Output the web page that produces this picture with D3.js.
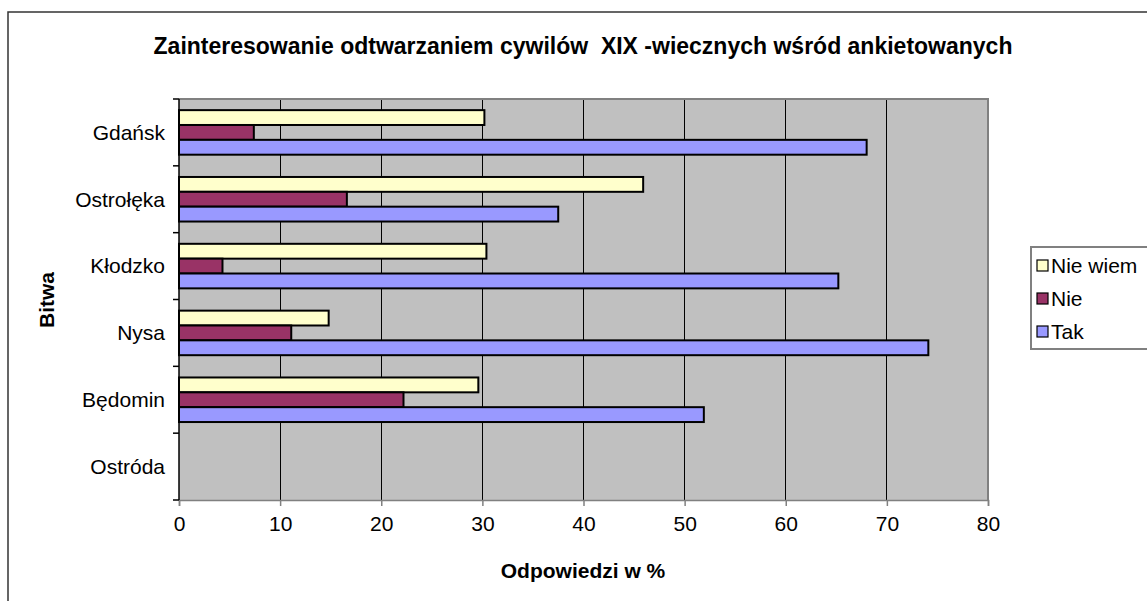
<!DOCTYPE html>
<html><head><meta charset="utf-8">
<script src="https://cdn.jsdelivr.net/npm/d3@7"></script>
<style>
html,body{margin:0;padding:0;background:#fff;overflow:hidden}
text{font-family:"Liberation Sans",Arial,sans-serif;fill:#000}
</style></head>
<body>
<svg id="chart" width="1147" height="601"></svg>
<script>
const categories = ["Gdańsk","Ostrołęka","Kłodzko","Nysa","Będomin","Ostróda"];
const seriesNames = ["Nie wiem","Nie","Tak"];
const valuesNieWiem = [30.2, 45.9, 30.4, 14.8, 29.6, null];
const valuesNie = [7.4, 16.6, 4.3, 11.1, 22.2, null];
const valuesTak = [68.0, 37.5, 65.2, 74.1, 51.9, null];
const xTicks = [0,10,20,30,40,50,60,70,80];
const colors = {"Nie wiem":"#FFFFCC","Nie":"#993366","Tak":"#9999FF"};
const titleText = "Zainteresowanie odtwarzaniem cywilów\u00a0 XIX -wiecznych wśród ankietowanych";

const seriesValues = {"Nie wiem":valuesNieWiem,"Nie":valuesNie,"Tak":valuesTak};
const svg = d3.select("#chart");

// outer chart border
svg.append("rect").attr("x",8).attr("y",12).attr("width",1160).attr("height",620)
  .attr("fill","#fff").attr("stroke","#333").attr("stroke-width",1.5);

const L=179,R=988,T=99,B=500;
const x = d3.scaleLinear().domain([0,80]).range([L,R]);
const y = d3.scaleBand().domain(categories).range([T,B]).paddingInner(1/3).paddingOuter(1/6);
const ySub = d3.scaleBand().domain(seriesNames).range([0,y.bandwidth()]);

// plot area
svg.append("rect").attr("x",L).attr("y",T).attr("width",R-L).attr("height",B-T).attr("fill","#C0C0C0");
// gridlines
svg.append("g").selectAll("line").data(xTicks.filter(d=>d>0&&d<80)).join("line")
  .attr("x1",d=>x(d)).attr("x2",d=>x(d)).attr("y1",T).attr("y2",B)
  .attr("stroke","#000").attr("stroke-width",1).attr("shape-rendering","crispEdges");
// plot border top/right
svg.append("path").attr("d",`M${L},${T}H${R}V${B}`).attr("fill","none").attr("stroke","#808080").attr("stroke-width",2);

// bars
const rows = [];
categories.forEach((c,i)=>seriesNames.forEach(s=>{ if(seriesValues[s][i]!=null) rows.push({c,s,v:seriesValues[s][i]}); }));
svg.append("g").selectAll("rect").data(rows).join("rect")
  .attr("x",x(0)).attr("y",d=>y(d.c)+ySub(d.s))
  .attr("width",d=>x(d.v)-x(0)).attr("height",ySub.bandwidth())
  .attr("fill",d=>colors[d.s]).attr("stroke","#000").attr("stroke-width",2);

// x axis
const xAxis = d3.axisBottom(x).tickValues(xTicks).tickSize(6).tickPadding(10).tickFormat(d3.format("d"));
const gx = svg.append("g").attr("transform",`translate(0,${B})`).call(xAxis);
gx.select(".domain").attr("stroke","#808080").attr("stroke-width",1.5);
gx.selectAll(".tick line").attr("stroke","#808080").attr("stroke-width",1.5);
gx.selectAll(".tick text").attr("font-size",21).attr("font-family","Liberation Sans, Arial, sans-serif").attr("fill","#000");

// y axis: category labels + ticks at band boundaries
const gy = svg.append("g");
gy.append("line").attr("x1",L).attr("x2",L).attr("y1",T).attr("y2",B).attr("stroke","#000").attr("stroke-width",1.5);
const step = y.step();
const bounds = d3.range(categories.length+1).map(i=>T+i*step);
gy.selectAll("line.tk").data(bounds).join("line").attr("class","tk")
  .attr("x1",L-6).attr("x2",L).attr("y1",d=>d).attr("y2",d=>d).attr("stroke","#000").attr("stroke-width",1.5);
gy.selectAll("text").data(categories).join("text")
  .attr("x",165).attr("y",c=>y(c)+y.bandwidth()/2).attr("dy","0.35em")
  .attr("text-anchor","end").attr("font-size",21).text(c=>c);

// titles
svg.append("text").attr("x",583).attr("y",54).attr("text-anchor","middle")
  .attr("font-size",23).attr("font-weight","bold").text(titleText);
svg.append("text").attr("x",583).attr("y",578).attr("text-anchor","middle")
  .attr("font-size",21).attr("font-weight","bold").text("Odpowiedzi w %");
svg.append("text").attr("transform","translate(54,300) rotate(-90)").attr("text-anchor","middle")
  .attr("font-size",21).attr("font-weight","bold").text("Bitwa");

// legend
const lg = svg.append("g");
lg.append("rect").attr("x",1031).attr("y",247).attr("width",140).attr("height",102)
  .attr("fill","#fff").attr("stroke","#808080").attr("stroke-width",2);
const legY = d3.scalePoint().domain(seriesNames).range([266,332]);
lg.selectAll("rect.sw").data(seriesNames).join("rect").attr("class","sw")
  .attr("x",1037).attr("y",d=>legY(d)-6).attr("width",11).attr("height",11)
  .attr("fill",d=>colors[d]).attr("stroke","#000").attr("stroke-width",1.2);
lg.selectAll("text").data(seriesNames).join("text")
  .attr("x",1051).attr("y",d=>legY(d)).attr("dy","0.35em").attr("font-size",21).text(d=>d);
</script>
</body></html>
